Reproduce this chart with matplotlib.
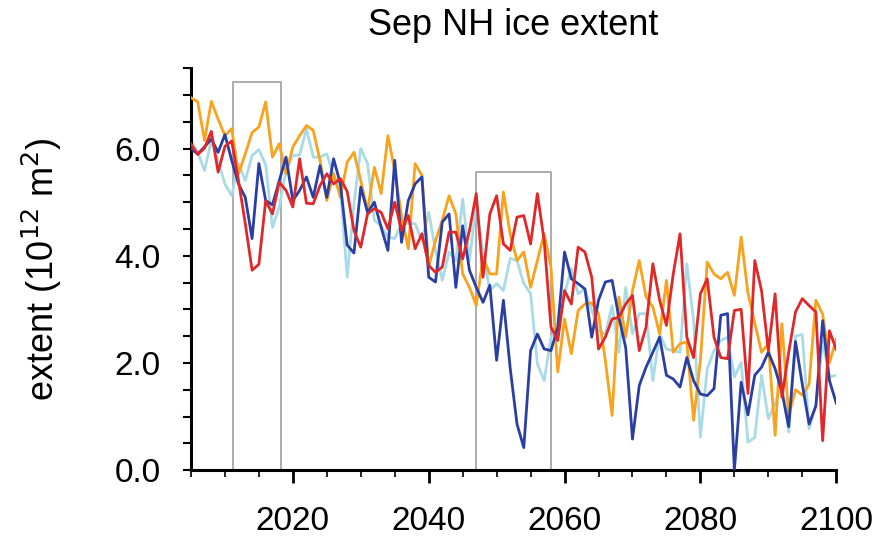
import numpy as np
import matplotlib
matplotlib.use("Agg")
from matplotlib import pyplot as plt
from matplotlib.ticker import MultipleLocator, FormatStrFormatter

years = np.arange(2005, 2101)

dark_blue = [6.0, 5.9, 6.03, 6.18, 5.93, 6.26, 5.78, 5.34, 5.09, 4.32,
             5.72, 5.03, 4.95, 5.4, 5.84, 5.03, 5.22, 5.47, 5.09, 5.68,
             5.09, 5.81, 5.34, 4.2, 4.05, 5.28, 4.81, 5.0, 4.53, 4.1,
             5.78, 4.25, 5.03, 5.34, 5.47, 3.6, 3.51, 4.63, 4.78, 3.41,
             4.56, 3.73, 3.41, 3.13, 3.45, 2.05, 3.17, 1.9, 0.86, 0.42,
             2.23, 2.54, 2.26, 2.23, 2.67, 4.07, 3.57, 3.48, 3.38, 2.48,
             3.17, 3.51, 3.54, 2.85, 2.29, 0.58, 1.58, 1.92, 2.2, 2.48,
             1.77, 1.7, 1.55, 2.1, 1.67, 1.42, 1.39, 1.52, 2.89, 2.92,
             0.0, 1.64, 1.03, 1.77, 1.92, 2.2, 1.89, 1.46, 0.81, 2.4,
             1.6, 0.86, 1.2, 2.79, 1.67, 1.25]

light_blue = [6.15, 5.93, 5.59, 6.15, 5.78, 5.34, 5.12, 5.72, 5.4, 5.87,
              5.98, 5.7, 4.53, 4.91, 5.59, 5.87, 5.88, 6.37, 5.84, 5.84,
              5.9, 5.5, 5.28, 3.6, 4.97, 6.0, 5.72, 4.66, 4.56, 4.35,
              4.32, 4.6, 4.6, 4.6, 4.28, 4.81, 4.1, 3.54, 4.07, 3.91,
              5.06, 3.91, 4.97, 4.07, 3.35, 3.48, 3.35, 3.95, 3.91, 3.48,
              3.29, 1.98, 1.67, 2.48, 2.6, 3.29, 3.76, 3.29, 3.38, 2.98,
              2.6, 2.54, 3.07, 2.2, 3.41, 2.54, 2.92, 2.92, 1.67, 2.54,
              2.26, 2.23, 2.2, 3.85, 2.79, 0.62, 1.89, 2.23, 2.42, 2.48,
              1.74, 2.01, 0.52, 0.61, 1.77, 0.96, 1.24, 1.64, 0.71, 2.5,
              2.53, 0.77, 1.2, 2.4, 1.74, 1.77]

orange = [6.95, 6.87, 6.15, 6.88, 6.55, 6.24, 6.37, 5.53, 5.9, 6.3,
          6.4, 6.87, 5.84, 6.09, 5.53, 6.03, 6.24, 6.43, 6.34, 5.78,
          5.03, 5.53, 5.09, 5.75, 5.93, 5.4, 4.84, 5.65, 5.16, 6.24,
          5.59, 4.75, 4.13, 5.72, 5.5, 3.8, 4.28, 4.66, 5.12, 4.78,
          3.66, 3.41, 3.07, 3.97, 3.66, 3.66, 5.19, 4.4, 3.91, 4.07,
          3.41, 3.91, 4.41, 3.79, 1.83, 2.82, 2.17, 2.98, 3.1, 3.12,
          2.92, 2.05, 1.02, 3.23, 2.48, 3.35, 3.91, 3.23, 3.04, 2.54,
          3.54, 2.2, 2.36, 2.39, 0.93, 2.05, 3.88, 3.66, 3.57, 3.69,
          3.26, 4.35, 3.3, 2.75, 2.2, 2.36, 0.65, 2.73, 1.02, 1.5,
          1.4, 1.6, 3.17, 2.91, 2.0, 2.45]

red = [6.09, 5.89, 6.01, 6.32, 5.56, 6.04, 6.14, 5.4, 4.6, 3.73,
       3.84, 5.03, 4.78, 5.37, 5.22, 4.91, 5.81, 4.98, 4.97, 5.31,
       5.53, 5.34, 5.44, 5.2, 4.47, 4.16, 4.78, 4.88, 4.81, 4.5,
       5.0, 4.47, 4.75, 4.13, 4.41, 3.82, 3.69, 3.79, 4.44, 4.44,
       3.94, 4.47, 5.16, 3.6, 4.78, 5.12, 4.22, 4.1, 4.72, 4.75,
       4.22, 5.16, 4.28, 2.67, 2.42, 3.35, 3.1, 4.16, 4.07, 3.6,
       2.26, 2.48, 2.82, 2.85, 3.1, 3.26, 2.23, 2.67, 3.85, 3.17,
       2.7, 3.66, 4.41, 2.48, 2.1, 3.29, 3.57, 2.48, 2.1, 2.08,
       2.98, 3.0, 1.43, 3.91, 3.35, 2.23, 3.29, 1.36, 2.2, 2.95,
       3.2, 3.07, 2.95, 0.55, 2.6, 2.25]

# highlighted periods: (start, end, top)
box_start = [2011.2, 2047.0]
box_end = [2018.2, 2058.0]
box_top = [7.25, 5.56]

plt.rcParams['font.family'] = ['Liberation Sans', 'DejaVu Sans']

fig = plt.figure(figsize=(8.84, 5.41), dpi=100)
ax = fig.add_axes([0.216, 0.131, 0.730, 0.743])

for x0, x1, top in zip(box_start, box_end, box_top):
  ax.plot([x0, x0, x1, x1], [0, top, top, 0], color="#a6a6a6", lw=1.3, zorder=1)

ax.plot(years, light_blue, color="#a9dbe6", lw=2.0, zorder=2)
ax.plot(years, orange, color="#f9a21c", lw=2.0, zorder=3)
ax.plot(years, dark_blue, color="#2b3ea3", lw=2.0, zorder=4)
ax.plot(years, red, color="#e0282a", lw=2.0, zorder=5)

ax.set_xlim(2005, 2100)
ax.set_ylim(0, 7.5)
ax.xaxis.set_major_locator(MultipleLocator(20))
ax.xaxis.set_minor_locator(MultipleLocator(5))
ax.yaxis.set_major_locator(MultipleLocator(2))
ax.yaxis.set_minor_locator(MultipleLocator(0.5))
ax.yaxis.set_major_formatter(FormatStrFormatter("%.1f"))

for side in ["top", "right"]:
  ax.spines[side].set_visible(False)
for side in ["left", "bottom"]:
  ax.spines[side].set_linewidth(2.2)

ax.tick_params(which="major", length=9, width=2, labelsize=24, direction="out")
ax.tick_params(which="minor", length=5, width=1.2, direction="out")
ax.tick_params(axis="x", which="major", pad=17)
ax.tick_params(axis="y", which="both", length=6, width=1.5, pad=16)

ax.set_title("Sep NH ice extent", fontsize=26, pad=24)
ax.set_ylabel("extent (10$^{12}$ m$^2$)", fontsize=26, labelpad=36)

fig.savefig("out.png", dpi=100)
